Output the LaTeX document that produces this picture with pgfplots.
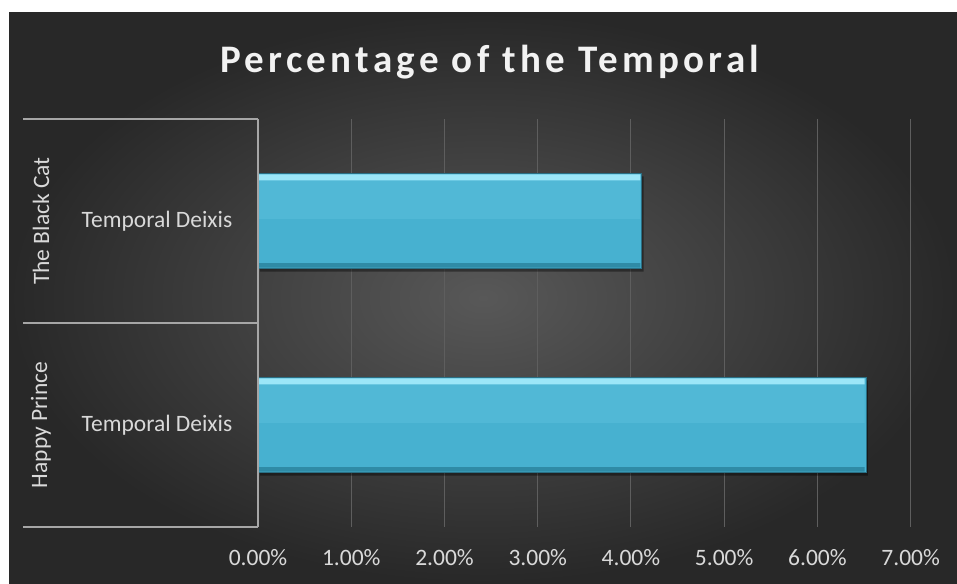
\documentclass[border=0pt]{standalone}
\usepackage{pgfplots}
\pgfplotsset{compat=1.18}
\usepackage{fontspec}
\setmainfont{Carlito}
\newfontfamily\titlefont[LetterSpace=11]{Carlito}
\definecolor{bgin}{HTML}{585858}
\definecolor{bgout}{HTML}{282828}
\definecolor{axl}{HTML}{A6A6A6}
\definecolor{txt}{HTML}{D9D9D9}
\definecolor{grd}{HTML}{5E5E5E}
\definecolor{btop}{HTML}{9CE6F8}
\definecolor{bhi}{HTML}{58BEDB}
\definecolor{blo}{HTML}{47B1D0}
\definecolor{bbot}{HTML}{2F8BA6}
\definecolor{bedge}{HTML}{2A6F84}
\begin{document}
\begin{tikzpicture}
\fill[white] (0pt,0pt) rectangle (957pt,583pt);
\shade[inner color=bgin, outer color=bgout] (9pt,0pt) rectangle (957pt,570pt);
\node[anchor=base, text=white!95!black, font=\titlefont\bfseries\fontsize{39}{44}\selectfont] at (490pt,510pt) {Percentage of the Temporal};
\begin{axis}[
  at={(258pt,56pt)}, anchor=south west,
  scale only axis, width=652.7pt, height=408pt,
  xmin=0, xmax=7, ymin=-0.5, ymax=1.5,
  axis line style={draw=none},
  major tick length=0pt,
  xtick={0,1,2,3,4,5,6,7},
  xticklabels={0.00\%,1.00\%,2.00\%,3.00\%,4.00\%,5.00\%,6.00\%,7.00\%},
  ytick={0,1},
  yticklabels={Temporal Deixis,Temporal Deixis},
  xmajorgrids,
  grid style={grd, line width=1pt},
  tick label style={font=\fontsize{23.5}{28}\selectfont, text=txt},
  xticklabel style={anchor=center, yshift=-31pt},
  yticklabel style={anchor=center, xshift=-101pt},
  clip=false,
]
% shadow
\addplot[xbar, bar width=0.466, fill=black, fill opacity=0.4, draw=none,
  transform canvas={xshift=2pt, yshift=-3pt}]
  coordinates {(4.115,1) (6.52,0)};
% lower body
\addplot[xbar, bar width=0.466, fill=blo, draw=bedge, line width=0.8pt]
  coordinates {(4.115,1) (6.52,0)};
% upper body (slightly lighter)
\addplot[xbar, bar width=0.2, bar shift=0.11, fill=bhi, fill opacity=0.6, draw=none]
  coordinates {(4.10,1) (6.505,0)};
% top bevel highlight
\addplot[xbar, bar width=0.03, bar shift=0.214, fill=btop, draw=none]
  coordinates {(4.10,1) (6.505,0)};
% bottom bevel shade
\addplot[xbar, bar width=0.022, bar shift=-0.218, fill=bbot, draw=none]
  coordinates {(4.10,1) (6.505,0)};
\end{axis}
\draw[axl, line width=1.5pt] (23pt,464pt) -- (258pt,464pt);
\draw[axl, line width=1.5pt] (23pt,260pt) -- (258pt,260pt);
\draw[axl, line width=1.5pt] (23pt,56pt) -- (258pt,56pt);
\draw[axl, line width=1.5pt] (258pt,56pt) -- (258pt,464pt);
\node[rotate=90, anchor=center, text=txt, font=\fontsize{23.5}{28}\selectfont] at (41pt,362pt) {The Black Cat};
\node[rotate=90, anchor=center, text=txt, font=\fontsize{23.5}{28}\selectfont] at (41pt,158pt) {Happy Prince};
\end{tikzpicture}
\end{document}
